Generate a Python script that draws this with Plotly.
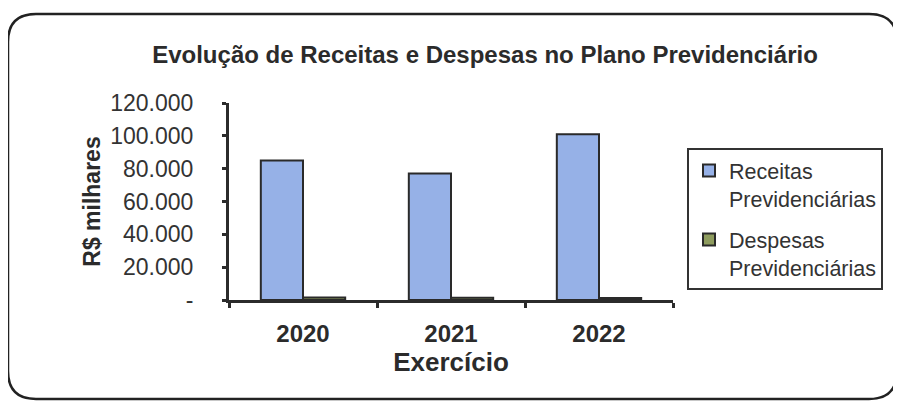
import plotly.graph_objects as go

anos = ["2020", "2021", "2022"]
receitas = [85000, 77000, 101000]
despesas = [1500, 1300, 1200]
y_ticks = [0, 20000, 40000, 60000, 80000, 100000, 120000]
y_tick_text = ["-", "20.000", "40.000", "60.000", "80.000", "100.000", "120.000"]

# The page body has an 8px margin, so the figure is drawn 8px in from the window edge.
OFF = 8
WIN_W, WIN_H = 901, 405
W, H = WIN_W - OFF, WIN_H - OFF
# plot area in window pixels
X0, X1, Y0, Y1 = 229, 673, 103, 300
L, R, T, B = X0 - OFF, W - (X1 - OFF), Y0 - OFF, H - (Y1 - OFF)
pw, ph = X1 - X0, Y1 - Y0

def px(x):  # window x -> paper x
    return (x - X0) / pw

def py(y):  # window y -> paper y
    return (Y1 - y) / ph

def rounded_rect(x0, y0, x1, y1, r):
    pts = [f"M {px(x0 + r)},{py(y0)}",
           f"L {px(x1 - r)},{py(y0)}",
           f"Q {px(x1)},{py(y0)} {px(x1)},{py(y0 + r)}",
           f"L {px(x1)},{py(y1 - r)}",
           f"Q {px(x1)},{py(y1)} {px(x1 - r)},{py(y1)}",
           f"L {px(x0 + r)},{py(y1)}",
           f"Q {px(x0)},{py(y1)} {px(x0)},{py(y1 - r)}",
           f"L {px(x0)},{py(y0 + r)}",
           f"Q {px(x0)},{py(y0)} {px(x0 + r)},{py(y0)} Z"]
    return " ".join(pts)

fig = go.Figure()
fig.add_trace(go.Bar(
    x=anos, y=receitas, name="Receitas<br>Previdenciárias", legendgroup="a",
    marker=dict(color="#96B1E7", line=dict(color="#2a2a2a", width=2)),
))
fig.add_trace(go.Bar(
    x=anos, y=despesas, name="Despesas<br>Previdenciárias", legendgroup="b",
    marker=dict(color="#8E9C5E", line=dict(color="#2a2a2a", width=2)),
))

fig.update_layout(
    width=W, height=H,
    margin=dict(l=L, r=R, t=T, b=B, autoexpand=False),
    paper_bgcolor="white", plot_bgcolor="white",
    barmode="group", bargap=0.43, bargroupgap=0,
    font=dict(family="Liberation Sans, Arial", color="#2b2b2b"),
    title=dict(text="<b>Evolução de Receitas e Despesas no Plano Previdenciário</b>",
               x=(485 - OFF) / W, xanchor="center", y=1 - (55 - OFF) / H, yanchor="middle",
               font=dict(size=24, color="#2b2b2b")),
    showlegend=True,
    legend=dict(x=px(687), xanchor="left", y=py(148), yanchor="top",
                bordercolor="#333", borderwidth=2, bgcolor="white",
                font=dict(size=21.5, color="#333"), tracegroupgap=10,
                valign="top", itemwidth=30),
    shapes=[dict(type="path", xref="paper", yref="paper",
                 path=rounded_rect(8, 14, 897, 399, 28),
                 line=dict(color="#222", width=2.5), layer="below")],
)
fig.update_xaxes(
    showline=True, linecolor="#2b2b2b", linewidth=3,
    ticks="outside", tickson="boundaries", ticklen=5, tickwidth=3, tickcolor="#2b2b2b",
    ticklabelstandoff=10,
    tickfont=dict(size=24, color="#2b2b2b"),
    tickprefix="<b>", ticksuffix="</b>",
    title=dict(text="<b>Exercício</b>", font=dict(size=26), standoff=2),
)
fig.update_yaxes(
    range=[0, 120000], tickvals=y_ticks, ticktext=y_tick_text,
    showline=True, linecolor="#2b2b2b", linewidth=3, showgrid=False, zeroline=False,
    ticks="outside", ticklen=4, tickwidth=3, tickcolor="#2b2b2b",
    ticklabelstandoff=24,
    tickfont=dict(size=23, color="#333"),
    title=dict(text="<b>R$ milhares</b>", font=dict(size=23), standoff=4),
)

fig.write_html("out.html")
